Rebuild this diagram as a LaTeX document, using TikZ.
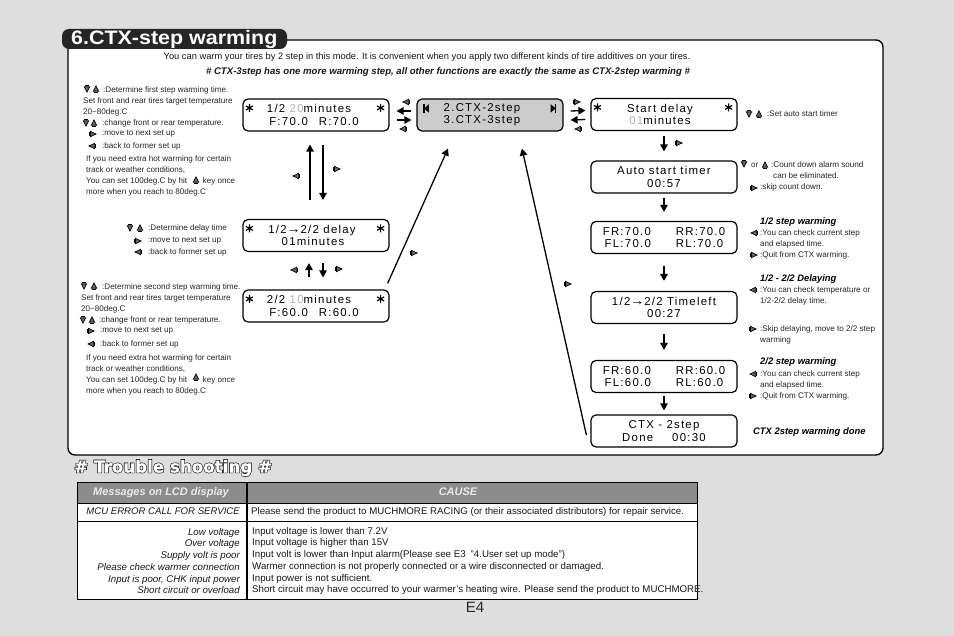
\documentclass[tikz,border=0pt]{standalone}
\usepackage{fontspec}
\setmainfont{Liberation Sans}
\newfontfamily\lcdfont[LetterSpace=11]{Liberation Sans}
\newfontfamily\titlefont[FakeStretch=1.1]{Liberation Sans}
\newfontfamily\troubleback[FakeBold=8]{DejaVu Sans}
\newfontfamily\troublefront[FakeBold=1]{DejaVu Sans}
\usetikzlibrary{arrows.meta}
\definecolor{pagegray}{HTML}{DEDEDE}
\definecolor{headgray}{HTML}{8C8C8C}
\definecolor{menugray}{HTML}{CCCCCC}
\tikzset{
  lcd/.style={draw,line width=1.2pt,rounded corners=5pt,fill=white,minimum width=146pt,
    minimum height=32pt,inner sep=0pt,align=center,font=\lcdfont\fontsize{11.4}{12.4}\selectfont},
  note/.style={anchor=west,inner sep=0pt,align=left,text=black!85,font=\fontsize{8.1}{10.9}\selectfont},
  notehead/.style={anchor=west,inner sep=0pt,font=\fontsize{9.4}{10}\selectfont\bfseries\itshape},
  cell/.style={inner sep=0pt,text=black!90,font=\fontsize{9.7}{11.7}\selectfont},
  headcell/.style={anchor=base,inner sep=0pt,text=white!92!black,font=\fontsize{11}{12}\selectfont\bfseries\itshape},
  arr/.style={-{Triangle[length=7pt,width=7.5pt]},line width=1.3pt},
  lcdstar/.pic={\draw[line width=1.2pt] (0,-4)--(0,4) (-3.5,-2)--(3.5,2) (-3.5,2)--(3.5,-2);},
  keyright/.pic={\draw[fill=black!60,line width=.7pt] (-2.6,-2.7)--(3,0)--(-2.6,2.7)--cycle;\draw[line width=.9pt] (-3.6,-1.8)--(-3.6,1.8);},
  keyleft/.pic={\draw[fill=black!60,line width=.7pt] (2.6,-2.7)--(-3,0)--(2.6,2.7)--cycle;\draw[line width=.9pt] (3.6,-1.8)--(3.6,1.8);},
  keyup/.pic={\draw[fill=black!60,line width=.7pt] (-2.7,2.2)--(0,-3)--(2.7,2.2)--cycle;\draw[line width=.9pt] (-1.8,3.2)--(1.8,3.2);},
  keydown/.pic={\draw[fill=black!60,line width=.7pt] (-2.7,-2.2)--(0,3)--(2.7,-2.2)--cycle;\draw[line width=.9pt] (-1.8,-3.2)--(1.8,-3.2);},
  endleft/.pic={\fill (-3,0)--(2,-4.2)--(2,4.2)--cycle;\fill (-3.6,-4.6) rectangle (-2.2,4.6);},
  endright/.pic={\fill (3,0)--(-2,-4.2)--(-2,4.2)--cycle;\fill (3.6,-4.6) rectangle (2.2,4.6);},
}
\newcommand{\dimtext}[1]{\textcolor{black!30}{#1}}
\newcommand{\lcdarrow}{{\fontsize{14}{12}\selectfont\bfseries\textrightarrow}}

\begin{document}
\begin{tikzpicture}[x=1pt,y=-1pt]
\useasboundingbox (0,0) rectangle (954,636);
\fill[pagegray] (0,0) rectangle (954,636);
% main panel and title
\draw[line width=1.3pt,fill=white,rounded corners=7pt] (68,40) rectangle (883,455);
\fill[black!85,rounded corners=7pt] (62,29) rectangle (287,49);
\node[inner sep=0pt,anchor=west,text=white] (title) at (71,40) {\titlefont\fontsize{19.5}{20}\selectfont\bfseries 6.CTX-step warming};
\node[inner sep=0pt,text=black!90,font=\fontsize{9.3}{10}\selectfont] (intro) at (427,57.5) {You can warm your tires by 2 step in this mode. It is convenient when you apply two different kinds of tire additives on your tires.};
\node[inner sep=0pt,text=black!90,font=\fontsize{9.6}{10}\selectfont\bfseries\itshape] (introb) at (448,72) {\# CTX-3step has one more warming step, all other functions are exactly the same as CTX-2step warming \#};
% LCD screens
\node[lcd] (stepa) at (316,115) {1/2 \dimtext{20}minutes\hspace*{14pt}\\F:70.0\hspace{11pt}R:70.0\hspace*{4pt}};
\node[lcd] (delay) at (316,235.5) {1/2\lcdarrow 2/2 delay\hspace*{8pt}\\01minutes\hspace*{6pt}};
\node[lcd] (stepb) at (316,306) {2/2 \dimtext{10}minutes\hspace*{14pt}\\F:60.0\hspace{11pt}R:60.0\hspace*{4pt}};
\node[lcd,fill=menugray] (menu) at (490,115) {2.CTX-2step\hspace*{16pt}\\3.CTX-3step\hspace*{16pt}};
\node[lcd] (start) at (664,114.5) {Start delay\hspace*{8pt}\\\dimtext{01}minutes\hspace*{8pt}};
\node[lcd] (autot) at (664,177) {Auto start timer\\00:57};
\node[lcd] (frA) at (664,237.5) {FR:70.0\hspace{25pt}RR:70.0\\FL:70.0\hspace{25pt}RL:70.0};
\node[lcd] (timeleft) at (664,307.5) {1/2\lcdarrow 2/2 Timeleft\\00:27};
\node[lcd] (frB) at (664,376.5) {FR:60.0\hspace{25pt}RR:60.0\\FL:60.0\hspace{25pt}RL:60.0};
\node[lcd] (done) at (664,431) {CTX - 2step\\Done\hspace{19pt}00:30};
% stars and end marks on the screens
\foreach \n in {stepa,delay,stepb,start} {
  \pic at ([shift={(7pt,-9.5pt)}]\n.north west) {lcdstar};
  \pic at ([shift={(-9pt,-9.5pt)}]\n.north east) {lcdstar};
}
\pic at ([shift={(10.5pt,-10pt)}]menu.north west) {endleft};
\pic at ([shift={(-11pt,-10pt)}]menu.north east) {endright};
% arrows between screens
\draw[arr] ([shift={(-6pt,19pt)}]delay.north) -- ([shift={(-6pt,-13pt)}]stepa.south);
\draw[arr] ([shift={(7pt,-13pt)}]stepa.south) -- ([shift={(7pt,19pt)}]delay.north);
\draw[arr] ([shift={(-7pt,12pt)}]stepb.north) -- ([shift={(-7pt,-11pt)}]delay.south);
\draw[arr] ([shift={(7pt,-11pt)}]delay.south) -- ([shift={(7pt,12pt)}]stepb.north);
\draw[arr] ([shift={(-5pt,4pt)}]menu.west) -- ([shift={(7pt,4pt)}]stepa.east);
\draw[arr] ([shift={(7pt,-5pt)}]stepa.east) -- ([shift={(-5pt,-5pt)}]menu.west);
\draw[arr] ([shift={(7pt,4pt)}]menu.east) -- ([shift={(-5pt,4pt)}]start.west);
\draw[arr] ([shift={(-5pt,-5pt)}]start.west) -- ([shift={(7pt,-5pt)}]menu.east);
\draw[arr] ([shift={(-2pt,6pt)}]stepb.north east) -- ([shift={(-42pt,-17pt)}]menu.south);
\draw[arr] ([shift={(-4pt,-4pt)}]done.west) -- ([shift={(32pt,-17pt)}]menu.south);
\draw[arr] ([yshift=-5pt]start.south) -- ([yshift=9pt]autot.north);
\draw[arr] ([yshift=-4pt]autot.south) -- ([yshift=9pt]frA.north);
\draw[arr] ([yshift=-12pt]frA.south) -- ([yshift=10pt]timeleft.north);
\draw[arr] ([yshift=-10pt]timeleft.south) -- ([yshift=10pt]frB.north);
\draw[arr] ([yshift=-3pt]frB.south) -- ([yshift=4pt]done.north);
% key marks
\foreach \x/\y in {337/169,339/269,414/253,568/284,577/102,679/143,93/134,138/241,91/331,754/188,754/255,753/329,753/396} \pic at (\x,\y) {keyright};
\foreach \x/\y in {296/176,294/270,406/102,403/129,578/129,92/146,138/252,91/344,754/233,753/290,753/374} \pic at (\x,\y) {keyleft};
\foreach \x/\y in {87/89,86/123,130/228,84/286,83/320,749/114,744/164} \pic at (\x,\y) {keydown};
\foreach \x/\y in {96/89,94/123,140/228,94/286,92/320,759/114,765/165,196/180,196/377} \pic at (\x,\y) {keyup};
% notes, left side
\node[note] (noteaa) at (103,90) {:Determine first step warming time.};
\node[note] (noteab) at (83,106.5) {Set front and rear tires target temperature\\20\textasciitilde80deg.C};
\node[note] (noteac) at (102,123) {:change front or rear temperature.};
\node[note] (notead) at (102,134) {:move to next set up};
\node[note] (noteae) at (102,146) {:back to former set up};
\node[note] (noteaf) at (86,176) {If you need extra hot warming for certain\\track or weather conditions,\\You can set 100deg.C by hit \hspace{11pt} key once\\more when you reach to 80deg.C};
\node[note] (noteba) at (148,228) {:Determine delay time};
\node[note] (notebb) at (148,241) {:move to next set up};
\node[note] (notebc) at (148,252) {:back to former set up};
\node[note] (noteca) at (102,287) {:Determine second step warming time.};
\node[note] (notecb) at (81,304) {Set front and rear tires target temperature\\20\textasciitilde80deg.C};
\node[note] (notecc) at (99,320) {:change front or rear temperature.};
\node[note] (notecd) at (100,331) {:move to next set up};
\node[note] (notece) at (100,344) {:back to former set up};
\node[note] (notecf) at (86,375) {If you need extra hot warming for certain\\track or weather conditions,\\You can set 100deg.C by hit \hspace{11pt} key once\\more when you reach to 80deg.C};
% notes, right side
\node[note] (noteda) at (767,114) {:Set auto start timer};
\node[note] (notedb) at (751,165) {or};
\node[note] (notedc) at (771,165) {:Count down alarm sound};
\node[note] (notedd) at (773,176) {can be eliminated.};
\node[note] (notede) at (760,187) {:skip count down.};
\node[notehead] (noteea) at (760,222) {1/2 step warming};
\node[note] (noteeb) at (760,238.5) {:You can check current step\\and elapsed time.};
\node[note] (noteec) at (760,255) {:Quit from CTX warming.};
\node[notehead] (notefa) at (760,279.5) {1/2 - 2/2 Delaying};
\node[note] (notefb) at (760,295.5) {:You can check temperature or\\1/2-2/2 delay time.};
\node[note] (notefc) at (760,334.5) {:Skip delaying, move to 2/2 step\\warming};
\node[notehead] (notega) at (760,362) {2/2 step warming};
\node[note] (notegb) at (760,379.5) {:You can check current step\\and elapsed time.};
\node[note] (notegc) at (760,396) {:Quit from CTX warming.};
\node[notehead] (notegd) at (753,432) {CTX 2step warming done};
% trouble shooting
\node[inner sep=0pt,anchor=west,text=black] (troubleb) at (74,468) {\troubleback\fontsize{16.7}{18}\selectfont\bfseries\# Trouble shooting \#};
\node[inner sep=0pt,anchor=west,text=white] (troublef) at (74,468) {\troublefront\fontsize{16.7}{18}\selectfont\bfseries\# Trouble shooting \#};
\fill[white] (77,482) rectangle (697,599);
\fill[headgray] (77,482) rectangle (697,503);
\draw[line width=1pt] (77,482) rectangle (697,599) (77,503) -- (697,503) (77,521) -- (697,521);
\draw[line width=1.4pt] (247,482) -- (247,599);
\node[headcell] (headl) at (161,496) {Messages on LCD display};
\node[headcell] (headr) at (458,496) {CAUSE};
\node[cell,anchor=east,font=\fontsize{9.6}{10}\selectfont\itshape] (msga) at (240,511.5) {MCU ERROR CALL FOR SERVICE};
\node[cell,anchor=west] (causea) at (251,511.5) {Please send the product to MUCHMORE RACING (or their associated distributors) for repair service.};
\node[cell,anchor=east,align=right,font=\fontsize{9.7}{11.7}\selectfont\itshape] (msgb) at (240,561) {Low voltage\\Over voltage\\Supply volt is poor\\Please check warmer connection\\Input is poor, CHK input power\\Short circuit or overload};
\node[cell,anchor=west,align=left] (causeb) at (252,561) {Input voltage is lower than 7.2V\\Input voltage is higher than 15V\\Input volt is lower than Input alarm(Please see E3\hspace{5pt}"4.User set up mode")\\Warmer connection is not properly connected or a wire disconnected or damaged.\\Input power is not sufficient.\\Short circuit may have occurred to your warmer's heating wire. Please send the product to MUCHMORE.};
\node[inner sep=0pt,font=\fontsize{15}{15}\selectfont,text=black!85] (pageno) at (475,607.5) {E4};
\end{tikzpicture}
\end{document}
